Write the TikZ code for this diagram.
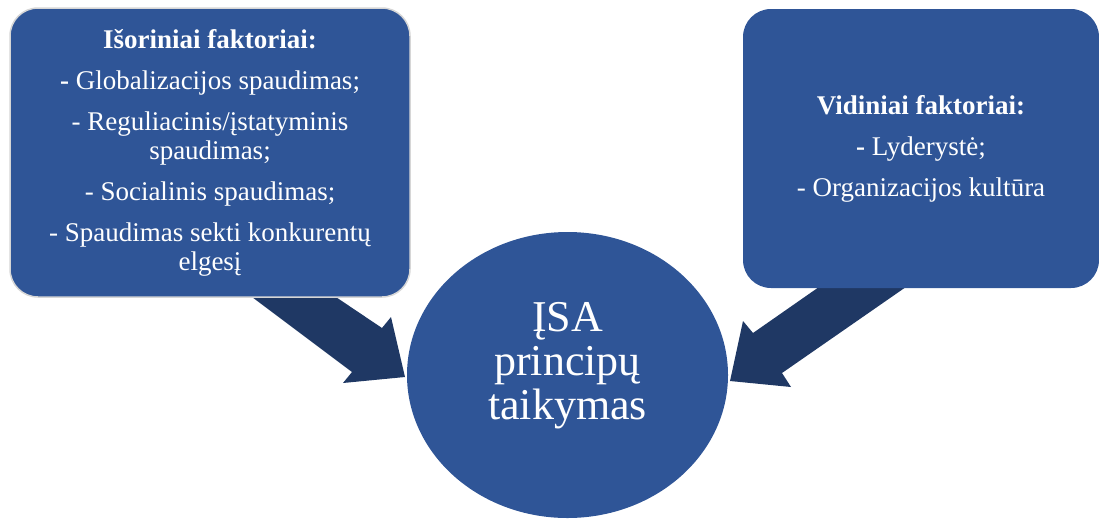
\documentclass[tikz,border=0pt]{standalone}
\usepackage{fontspec}
\setmainfont{Liberation Serif}
\usepackage{xcolor}
\usepackage{tikz}
\usetikzlibrary{shapes.geometric}

\definecolor{boxblue}{RGB}{47,85,151}
\definecolor{arrowblue}{RGB}{31,56,100}
\definecolor{edgegray}{RGB}{214,214,214}

\tikzset{
    factorbox/.style={rectangle, rounded corners=28pt, fill=boxblue, text=white, align=center, inner sep=0pt, font=\fontsize{27}{29}\selectfont},
    hub/.style={ellipse, fill=boxblue, inner sep=0pt, minimum width=321pt, minimum height=286pt},
    hubtext/.style={text=white, align=center, font=\fontsize{44}{44}\selectfont},
    blockarrow/.style={fill=arrowblue}
}

\begin{document}
\begin{tikzpicture}[x=1pt, y=-1pt]
    \useasboundingbox (0,0) rectangle (1099,523);

    % arrows (under the boxes)
    \fill[blockarrow] (236,285) -- (318,285) -- (382,328) -- (391,317) -- (405,377) -- (343,383) -- (352,372) -- cycle;
    \fill[blockarrow] (829,280) -- (916,280) -- (782,373) -- (791,387) -- (730,381) -- (743,321) -- (753,333) -- cycle;

    % Isoriniai faktoriai
    \node[factorbox, draw=edgegray, line width=1.5pt, minimum width=400pt, minimum height=289pt] (outer) at (210,152.5) {%
        \textbf{Išoriniai faktoriai:}\\[12pt]
        \textbf{-} Globalizacijos spaudimas;\\[12pt]
        - Reguliacinis/įstatyminis\\ spaudimas;\\[12pt]
        - Socialinis spaudimas;\\[12pt]
        - Spaudimas sekti konkurentų\\ elgesį};

    % Vidiniai faktoriai
    \node[factorbox, minimum width=356pt, minimum height=279pt] (inner) at (921,148.5) {%
        \textbf{Vidiniai faktoriai:}\\[12pt]
        \textbf{-} Lyderystė;\\[12pt]
        - Organizacijos kultūra};

    % ISA
    \node[hub] (isa) at (567.5,375) {};
    \node[hubtext] (isatext) at ([yshift=9pt]isa.center) {ĮSA\\principų\\taikymas};

\end{tikzpicture}
\end{document}
